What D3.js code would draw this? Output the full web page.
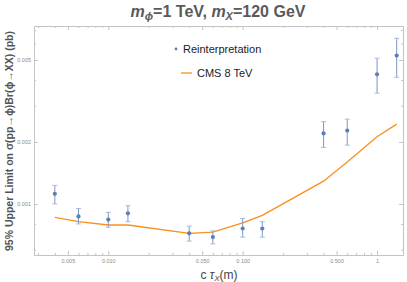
<!DOCTYPE html>
<html>
<head>
<meta charset="utf-8">
<script src="https://cdnjs.cloudflare.com/ajax/libs/d3/7.8.5/d3.min.js"></script>
<style>
  body { margin: 0; background: #fff; }
  svg { display: block; font-family: "Liberation Sans", Arial, sans-serif; }
</style>
</head>
<body>
<svg id="chart" width="407" height="282"></svg>
<script>
// c*tau values (m)
var ctau = [0.004, 0.006, 0.01, 0.014, 0.04, 0.06, 0.1, 0.14, 0.4, 0.6, 1, 1.4];
// reinterpretation limit (pb) with error bars
var reinterp = [0.00112, 0.00087, 0.00084, 0.00090, 0.00072, 0.00069, 0.00076, 0.00076, 0.00220, 0.00227, 0.00426, 0.00525];
var reinterpHi = [0.00123, 0.00095, 0.00091, 0.00098, 0.00078, 0.00074, 0.00085, 0.00082, 0.00251, 0.00258, 0.00510, 0.00637];
var reinterpLo = [0.00100, 0.00080, 0.00077, 0.00082, 0.00066, 0.00064, 0.00069, 0.00069, 0.00188, 0.00193, 0.00345, 0.00412];
// CMS 8 TeV limit (pb)
var cms8 = [0.00086, 0.00082, 0.00079, 0.00079, 0.00072, 0.00073, 0.00081, 0.00088, 0.00129, 0.00160, 0.00212, 0.00244];

var xTicks = [0.005, 0.01, 0.05, 0.1, 0.5, 1];
var xTickLabels = ["0.005", "0.010", "0.050", "0.100", "0.500", "1"];
var yTicks = [0.001, 0.002, 0.005];
var yTickLabels = ["0.001", "0.002", "0.005"];
var seriesNames = ["Reinterpretation", "CMS 8 TeV"];

// frame edges (px)
var fLeft = 34, fRight = 403, fTop = 26, fBottom = 255;
var svg = d3.select("#chart");

var x = d3.scaleLog().domain([0.0028, 1.56]).range([fLeft, fRight]);
var y = d3.scaleLog().domain([0.000565, 0.00731]).range([fBottom, fTop]);

var blue = "#5d7fb6", orange = "#f7901e", frameCol = "#c4c4c4", tickText = "#8a8a8a";

// minor ticks: every 1..9 * 10^n inside the domain
function minors(scale) {
    return scale.ticks(30).filter(function (d) {
        var m = d / Math.pow(10, Math.floor(Math.log10(d) + 1e-9));
        return Math.abs(m - Math.round(m)) < 1e-6;
    });
}
var xMinor = minors(x).filter(function (d) { return xTicks.indexOf(+d.toPrecision(3)) < 0; });
var yMinor = minors(y).filter(function (d) { return yTicks.indexOf(+d.toPrecision(3)) < 0; });

function styleAxis(g) {
    g.selectAll("path").attr("stroke", frameCol);
    g.selectAll("line").attr("stroke", frameCol);
    g.selectAll("text").attr("fill", tickText).attr("font-size", 5.5);
}

// frame with ticks on all four sides
svg.append("g").attr("transform", "translate(0," + fBottom + ")")
    .call(d3.axisBottom(x).tickValues(xTicks).tickSizeInner(-4).tickSizeOuter(0).tickPadding(4)
        .tickFormat(function (d, i) { return xTickLabels[i]; }))
    .call(styleAxis);
svg.append("g").attr("transform", "translate(0," + fBottom + ")")
    .call(d3.axisBottom(x).tickValues(xMinor).tickSize(-2).tickFormat(""))
    .call(styleAxis);
svg.append("g").attr("transform", "translate(0," + fTop + ")")
    .call(d3.axisTop(x).tickValues(xTicks).tickSizeInner(-4).tickSizeOuter(0).tickFormat(""))
    .call(styleAxis);
svg.append("g").attr("transform", "translate(0," + fTop + ")")
    .call(d3.axisTop(x).tickValues(xMinor).tickSize(-2).tickFormat(""))
    .call(styleAxis);
svg.append("g").attr("transform", "translate(" + fLeft + ",0)")
    .call(d3.axisLeft(y).tickValues(yTicks).tickSizeInner(-4).tickSizeOuter(0).tickPadding(3)
        .tickFormat(function (d, i) { return yTickLabels[i]; }))
    .call(styleAxis);
svg.append("g").attr("transform", "translate(" + fLeft + ",0)")
    .call(d3.axisLeft(y).tickValues(yMinor).tickSize(-2).tickFormat(""))
    .call(styleAxis);
svg.append("g").attr("transform", "translate(" + fRight + ",0)")
    .call(d3.axisRight(y).tickValues(yTicks).tickSizeInner(-4).tickSizeOuter(0).tickFormat(""))
    .call(styleAxis);
svg.append("g").attr("transform", "translate(" + fRight + ",0)")
    .call(d3.axisRight(y).tickValues(yMinor).tickSize(-2).tickFormat(""))
    .call(styleAxis);

// CMS line
var line = d3.line()
    .x(function (d, i) { return x(ctau[i]); })
    .y(function (d) { return y(d); });
svg.append("path")
    .datum(cms8)
    .attr("d", line)
    .attr("fill", "none")
    .attr("stroke", orange)
    .attr("stroke-width", 1.3);

// error bars
var bars = svg.append("g").selectAll("g")
    .data(reinterp)
    .enter()
    .append("g");
bars.append("line")
    .attr("x1", function (d, i) { return x(ctau[i]); })
    .attr("x2", function (d, i) { return x(ctau[i]); })
    .attr("y1", function (d, i) { return y(reinterpHi[i]); })
    .attr("y2", function (d, i) { return y(reinterpLo[i]); })
    .attr("stroke", "#7d98c6")
    .attr("stroke-width", 1);
[reinterpHi, reinterpLo].forEach(function (arr) {
    bars.append("line")
        .attr("x1", function (d, i) { return x(ctau[i]) - 2.5; })
        .attr("x2", function (d, i) { return x(ctau[i]) + 2.5; })
        .attr("y1", function (d, i) { return y(arr[i]); })
        .attr("y2", function (d, i) { return y(arr[i]); })
        .attr("stroke", "#a9bbd9")
        .attr("stroke-width", 1);
});
bars.append("circle")
    .attr("cx", function (d, i) { return x(ctau[i]); })
    .attr("cy", function (d) { return y(d); })
    .attr("r", 2.1)
    .attr("fill", blue);

// legend
svg.append("circle").attr("cx", 176).attr("cy", 49).attr("r", 1.4).attr("fill", blue);
svg.append("text").attr("x", 183).attr("y", 53).attr("font-size", 11).attr("fill", "#222").text(seriesNames[0]);
svg.append("line").attr("x1", 181).attr("x2", 192).attr("y1", 73).attr("y2", 73)
    .attr("stroke", orange).attr("stroke-width", 1.3);
svg.append("text").attr("x", 197).attr("y", 77).attr("font-size", 11).attr("fill", "#222").text(seriesNames[1]);

// title
var title = svg.append("text")
    .attr("x", 218).attr("y", 17)
    .attr("text-anchor", "middle")
    .attr("font-size", 16).attr("font-weight", "bold").attr("fill", "#5a5a5a");
title.append("tspan").attr("font-style", "italic").text("m");
title.append("tspan").attr("font-style", "italic").attr("font-size", 11).attr("dy", 3).text("\u03d5");
title.append("tspan").attr("dy", -3).text("=1 TeV, ");
title.append("tspan").attr("font-style", "italic").text("m");
title.append("tspan").attr("font-style", "italic").attr("font-size", 11).attr("dy", 3).text("X");
title.append("tspan").attr("dy", -3).text("=120 GeV");

// x label
var xl = svg.append("text")
    .attr("x", 219).attr("y", 279)
    .attr("text-anchor", "middle")
    .attr("font-size", 12).attr("fill", "#444");
xl.append("tspan").text("c ");
xl.append("tspan").attr("font-style", "italic").text("\u03c4");
xl.append("tspan").attr("font-style", "italic").attr("font-size", 8).attr("dy", 2).text("X");
xl.append("tspan").attr("dy", -2).text("(m)");

// y label
svg.append("text")
    .attr("transform", "translate(13,141) rotate(-90)")
    .attr("text-anchor", "middle")
    .attr("font-size", 10.5).attr("font-weight", "bold").attr("fill", "#555")
    .text("95% Upper Limit on \u03c3(pp\u2192\u03d5)Br(\u03d5\u2192XX) (pb)");
</script>
</body>
</html>
